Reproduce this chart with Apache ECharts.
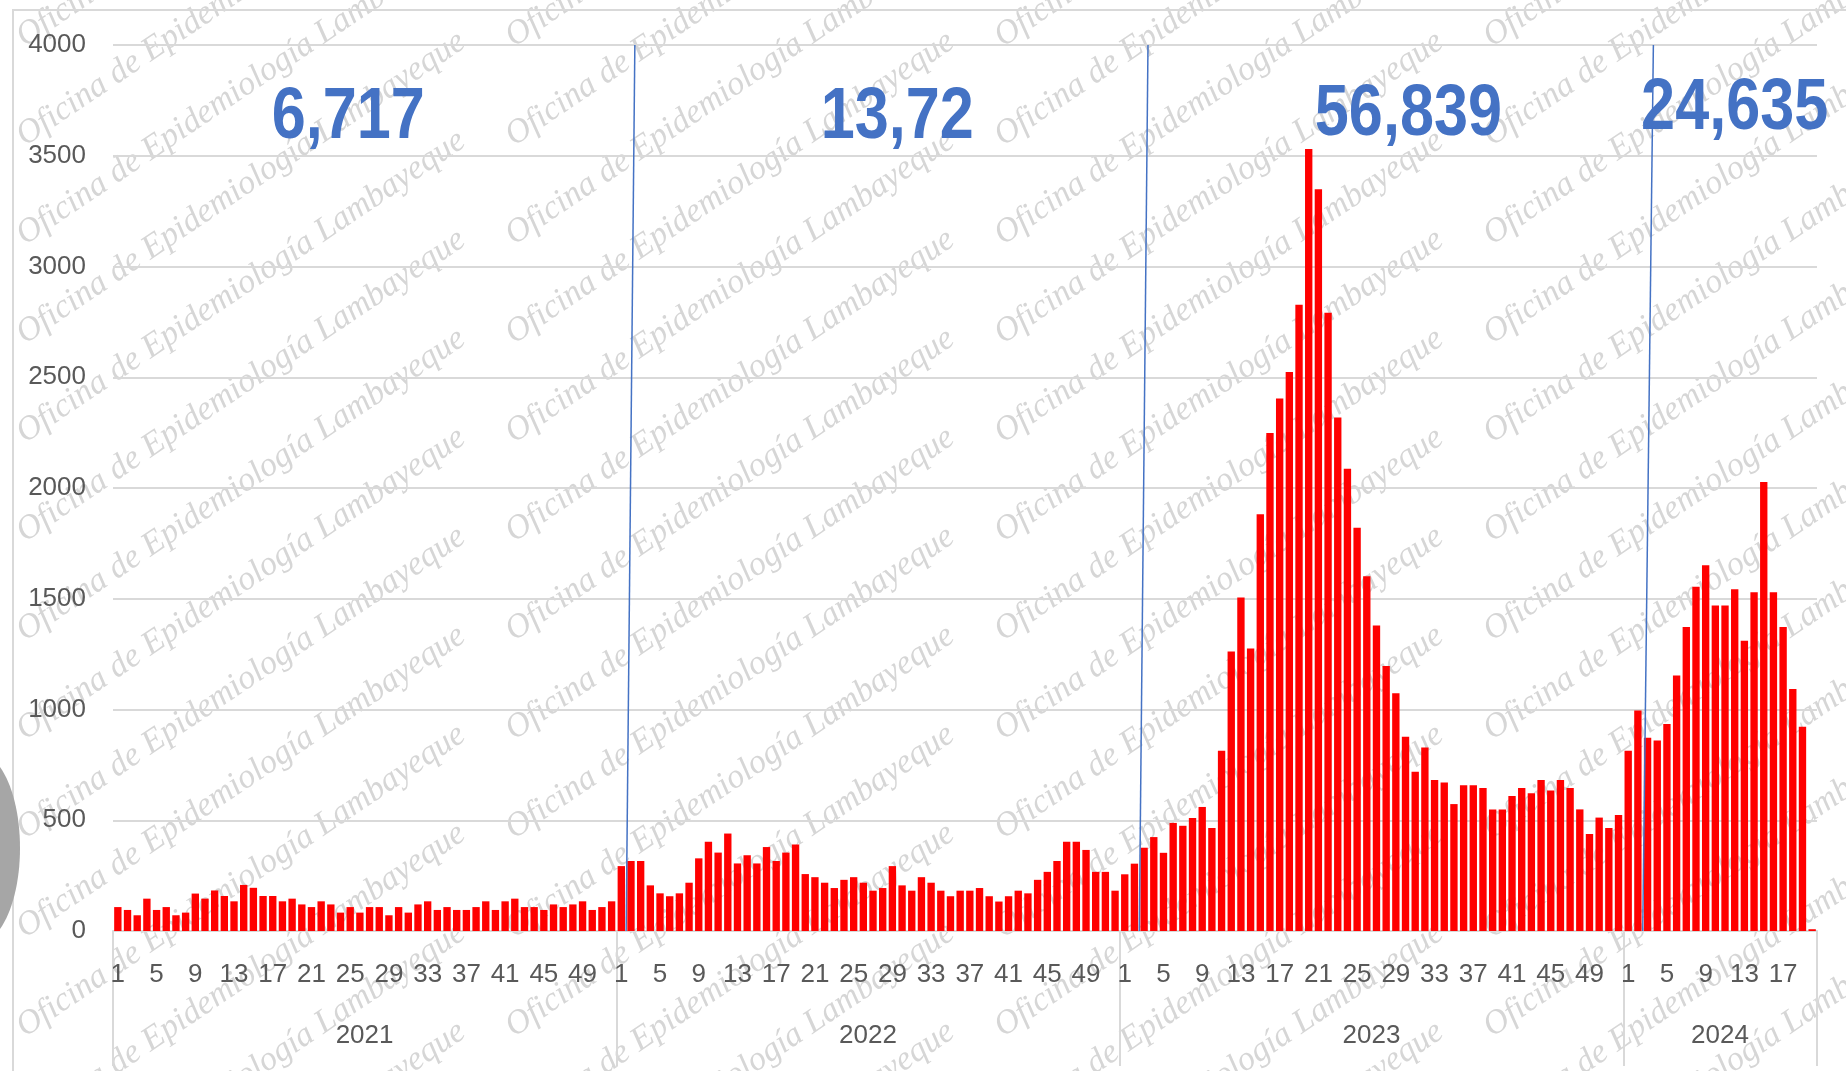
<!DOCTYPE html>
<html>
<head>
<meta charset="utf-8">
<title>Casos por semana epidemiológica 2021-2024</title>
<script src="https://cdn.jsdelivr.net/npm/echarts@6/dist/echarts.min.js"></script>
<style>
  html, body { margin: 0; padding: 0; background: #fff; }
  #chart { width: 1846px; height: 1071px; }
</style>
</head>
<body>
<div id="chart"></div>
<script>
// casos por semana epidemiologica
const years = ['2021', '2022', '2023', '2024'];
const cases2021 = [108, 95, 71, 146, 95, 108, 71, 83, 169, 146, 183, 158, 134, 208, 195, 158, 158, 134, 146, 120,
  108, 134, 120, 83, 108, 83, 108, 108, 71, 108, 83, 120, 134, 95, 108, 95, 95, 108, 134, 95,
  134, 146, 108, 108, 95, 120, 108, 120, 134, 95, 108, 134];
const cases2022 = [293, 316, 316, 206, 170, 157, 170, 218, 328, 403, 354, 440, 305, 342, 305, 379, 316, 354, 391, 257,
  243, 218, 194, 231, 243, 218, 182, 194, 293, 206, 182, 243, 218, 182, 157, 182, 182, 194, 157, 133,
  157, 182, 170, 231, 267, 316, 403, 403, 366, 267, 267, 182];
const cases2023 = [256, 304, 376, 424, 353, 488, 475, 510, 560, 465, 814, 1262, 1506, 1275, 1882, 2248, 2404, 2524, 2827, 3530,
  3349, 2791, 2318, 2087, 1821, 1602, 1379, 1196, 1073, 877, 719, 828, 682, 670, 573, 658, 658, 646, 549, 549,
  609, 646, 622, 682, 634, 682, 646, 549, 438, 512, 465, 524];
const cases2024 = [814, 996, 872, 860, 934, 1153, 1372, 1554, 1651, 1469, 1469, 1543, 1310, 1529, 2027, 1529, 1372, 1093, 922, 8];

// totales anuales (rotulos azules)
const yearTotals = ['6,717', '13,72', '56,839', '24,635'];
// donde van los rotulos: [semana corrida, casos]
const totalAnchors = [[24.3, 3672], [81.0, 3672], [133.8, 3683], [167.5, 3709]];
// lineas azules entre años: [semana corrida arriba, semana corrida abajo]
const yearMarks = [[53.9, 53.0], [106.9, 106.0], [159.1, 158.0]];

const yMax = 4000;
const yStep = 500;

const perYear = [cases2021, cases2022, cases2023, cases2024];
const allCases = [];
const weekCats = [];
const yearStart = [];   // indice donde empieza cada año
const yearMid = [];     // indice del rotulo del año
perYear.forEach(function (arr, k) {
  yearStart.push(allCases.length);
  yearMid.push(allCases.length + Math.floor(arr.length / 2));
  arr.forEach(function (v, i) {
    allCases.push(v);
    weekCats.push(years[k] + '-' + (i + 1));
  });
});
const nWeeks = allCases.length;

const txtFont = "'Liberation Sans', sans-serif";
const txtColor = '#595959';
const gridColor = '#d9d9d9';
const blue = '#4472c4';

// marca de agua
const wmText = 'Oficina de Epidemiología Lambayeque';
const watermark = [];
for (let r = 0; r < 14; r++) {
  for (let c = -1; c < 5; c++) {
    watermark.push({
      type: 'text',
      x: 20 + c * 489,
      y: 40 + r * 99,
      rotation: 34 * Math.PI / 180,
      silent: true,
      z: -10,
      style: {
        text: wmText,
        font: 'italic 34px "Liberation Serif"',
        fill: '#d6d6d6',
        verticalAlign: 'middle'
      }
    });
  }
}

const chart = echarts.init(document.getElementById('chart'));
chart.setOption({
  animation: false,
  backgroundColor: '#ffffff',
  grid: { left: 113, right: 29, top: 45, bottom: 140, outerBoundsMode: 'none' },
  xAxis: [
    {
      type: 'category',
      data: weekCats,
      axisLine: { lineStyle: { color: gridColor, width: 2 } },
      axisTick: { show: false },
      axisLabel: {
        interval: function (i, v) { return (Number(v.split('-')[1]) - 1) % 4 === 0; },
        formatter: function (v) { return v.split('-')[1]; },
        color: txtColor, fontSize: 26, fontFamily: txtFont, margin: 31
      }
    },
    {
      type: 'category',
      data: weekCats,
      position: 'bottom',
      axisLine: { show: false },
      axisTick: {
        show: true,
        interval: function (i) { return yearStart.indexOf(i) >= 0; },
        length: 135,
        lineStyle: { color: gridColor, width: 2 }
      },
      axisLabel: {
        interval: function (i) { return yearMid.indexOf(i) >= 0; },
        formatter: function (v) { return v.split('-')[0]; },
        color: txtColor, fontSize: 26, fontFamily: txtFont, margin: 92,
        padding: [0, 10, 0, 0]
      },
      splitLine: { show: false }
    },
    { type: 'value', min: 0, max: nWeeks, show: false }
  ],
  yAxis: {
    type: 'value',
    min: 0, max: yMax, interval: yStep,
    axisLine: { show: false },
    axisTick: { show: false },
    axisLabel: {
      formatter: function (v) { return String(v); },
      color: txtColor, fontSize: 26, fontFamily: txtFont, margin: 27
    },
    splitLine: { lineStyle: { color: gridColor, width: 2 } }
  },
  series: [
    {
      name: 'Casos',
      type: 'bar',
      xAxisIndex: 0,
      data: allCases,
      barCategoryGap: '24%',
      itemStyle: { color: '#ff0000' }
    }
  ].concat(yearMarks.map(function (m) {
    return {
      type: 'line',
      xAxisIndex: 2,
      data: [[m[0], yMax], [m[1], 0]],
      symbol: 'none',
      silent: true,
      lineStyle: { color: blue, width: 1.5 },
      z: 5
    };
  }))
});

// rotulos de totales, ubicados con la escala del grafico
const totals = totalAnchors.map(function (a, i) {
  const p = chart.convertToPixel({ seriesIndex: 1 }, a);
  return {
    type: 'text',
    x: p[0],
    y: p[1],
    scaleX: 0.85,
    silent: true,
    z: 20,
    style: {
      text: yearTotals[i],
      font: 'bold 72px "Liberation Sans"',
      fill: blue,
      align: 'center',
      verticalAlign: 'middle'
    }
  };
});

chart.setOption({
  graphic: watermark.concat([
    {
      type: 'rect', silent: true, z: -5,
      shape: { x: 13, y: 10, width: 1900, height: 1100 },
      style: { fill: null, stroke: gridColor, lineWidth: 2 }
    },
    {
      type: 'ellipse', silent: true, z: -5,
      shape: { cx: -22, cy: 848, rx: 42, ry: 95 },
      style: { fill: '#a6a6a6' }
    }
  ], totals)
});
</script>
</body>
</html>
